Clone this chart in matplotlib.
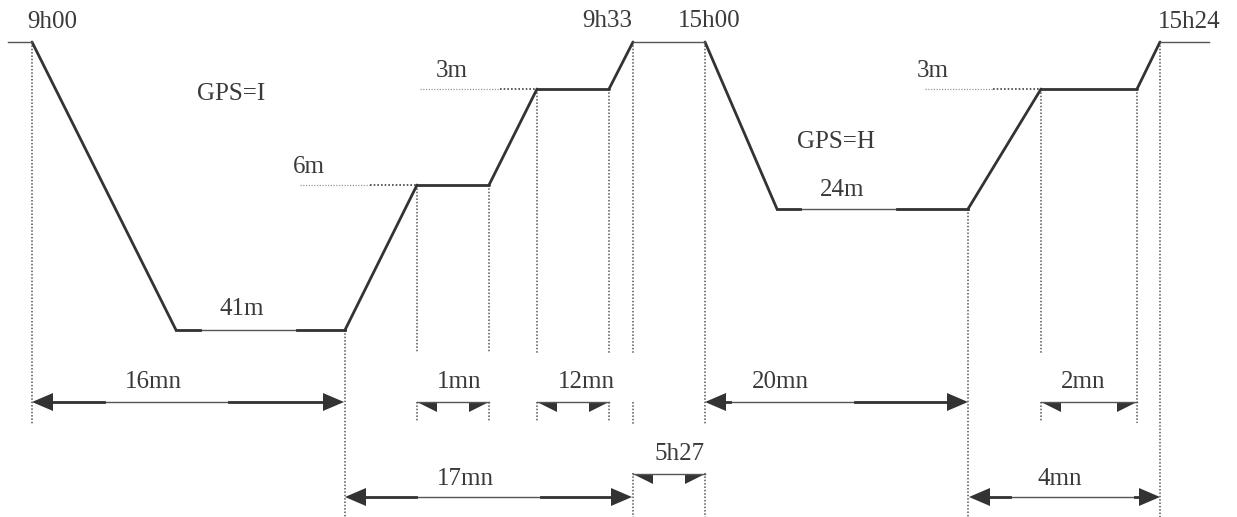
import matplotlib.pyplot as plt
from matplotlib.patches import Polygon

# schematic dive profile (drawing units = pixels, y grows downward)
profile_x = [32, 176, 345, 417, 489, 537, 609, 633, 705, 777, 968, 1041, 1137, 1160]
profile_y = [42, 330, 330, 185, 185, 89, 89, 42, 42, 209, 209, 89, 89, 42]

# surface stretches (thin lines)
surface_segments = [(8, 32), (633, 705), (1160, 1209)]
surface_y = 42

# bottom stretches carry a label, the line is thin under it
bottom_labels = ["41m", "24m"]
bottom_segments = [(176, 345, 330, 243), (777, 968, 209, 843)]

# stop guides: (x_light, x_dark, x_stop, y)
stop_guides = [(300, 370, 417, 185), (420, 500, 537, 89), (925, 993, 1041, 89)]

# clock times and other labels: (text, x, baseline, ha)
labels = [
    ("9h00", 27, 28, "left"),
    ("9h33", 632, 27, "right"),
    ("15h00", 678, 27, "left"),
    ("15h24", 1158, 28, "left"),
    ("GPS=I", 197, 100, "left"),
    ("GPS=H", 797, 148, "left"),
    ("6m", 293, 173, "left"),
    ("3m", 436, 77, "left"),
    ("3m", 917, 77, "left"),
    ("41m", 220, 315, "left"),
    ("24m", 820, 196, "left"),
    ("16mn", 125, 388, "left"),
    ("1mn", 437, 388, "left"),
    ("12mn", 558, 388, "left"),
    ("20mn", 752, 388, "left"),
    ("2mn", 1061, 388, "left"),
    ("17mn", 437, 485, "left"),
    ("4mn", 1037, 485, "left"),
    ("5h27", 705, 460, "right"),
]

# full double arrows: (x0, x1, y, label centre)
full_arrows = [(32, 344, 402, 154), (705, 968, 402, 780),
               (345, 632, 497, 466), (969, 1160, 497, 1060)]
# half-head arrows: (x0, x1, y)
half_arrows = [(417, 489, 402), (537, 609, 402), (1041, 1137, 402), (633, 705, 474)]

# dotted verticals: (x, [(y0, y1), ...])
verticals = [
    (32, [(42, 425)]),
    (345, [(330, 517)]),
    (417, [(185, 353), (402, 422)]),
    (489, [(185, 353), (402, 422)]),
    (537, [(89, 353), (402, 422)]),
    (609, [(89, 353), (402, 422)]),
    (633, [(42, 353), (402, 425), (473, 517)]),
    (705, [(42, 425), (473, 517)]),
    (968, [(209, 517)]),
    (1041, [(89, 353), (402, 422)]),
    (1137, [(89, 423)]),
    (1160, [(42, 517)]),
]

INK = "#333333"
DOT = (0, (1, 1.2))

fig = plt.figure(figsize=(12.37, 5.17), dpi=100)
ax = fig.add_axes([0, 0, 1, 1])
ax.set_xlim(0, 1237)
ax.set_ylim(517, 0)
ax.axis("off")

# dotted helpers first
for x, spans in verticals:
    for y0, y1 in spans:
        ax.plot([x, x], [y0, y1], color="#555555", lw=1.1, ls=DOT)
for xl, xd, xs, y in stop_guides:
    ax.plot([xl, xd], [y, y], color="#999999", lw=0.9, ls=DOT)
    ax.plot([xd, xs], [y, y], color="#444444", lw=1.2, ls=DOT)

# profile, bottoms handled separately
bottom_starts = [s[0] for s in bottom_segments]
surf_starts = [s[0] for s in surface_segments]
for i in range(len(profile_x) - 1):
    x0, x1 = profile_x[i], profile_x[i + 1]
    y0, y1 = profile_y[i], profile_y[i + 1]
    if y0 == y1 and (x0 in bottom_starts or x0 in surf_starts):
        continue
    ax.plot([x0, x1], [y0, y1], color=INK, lw=2, solid_capstyle="round")

for x0, x1 in surface_segments:
    ax.plot([x0, x1], [surface_y, surface_y], color="#555555", lw=1)

for x0, x1, y, cx in bottom_segments:
    ax.plot([x0, x1], [y, y], color="#555555", lw=1)
    ax.plot([x0, cx - 43], [y, y], color=INK, lw=2)
    ax.plot([cx + 54, x1], [y, y], color=INK, lw=2)

# arrows
for x0, x1, y, cx in full_arrows:
    ax.plot([x0 + 20, x1 - 20], [y, y], color="#555555", lw=1)
    ax.plot([x0 + 20, cx - 50], [y, y], color=INK, lw=2)
    ax.plot([cx + 75, x1 - 20], [y, y], color=INK, lw=2)
    ax.add_patch(Polygon([(x0, y), (x0 + 21, y - 9), (x0 + 21, y + 9)],
                         closed=True, color=INK, lw=0))
    ax.add_patch(Polygon([(x1, y), (x1 - 21, y - 9), (x1 - 21, y + 9)],
                         closed=True, color=INK, lw=0))

for x0, x1, y in half_arrows:
    ax.plot([x0, x1], [y, y], color="#555555", lw=1)
    ax.add_patch(Polygon([(x0, y), (x0 + 20, y), (x0 + 20, y + 10)],
                         closed=True, color=INK, lw=0))
    ax.add_patch(Polygon([(x1, y), (x1 - 20, y), (x1 - 20, y + 10)],
                         closed=True, color=INK, lw=0))

for text, x, y, ha in labels:
    ax.text(x, y, text, ha=ha, va="baseline", fontsize=18,
            family="Liberation Serif", color="#3a3a3a")

fig.savefig("out.png", dpi=100)
